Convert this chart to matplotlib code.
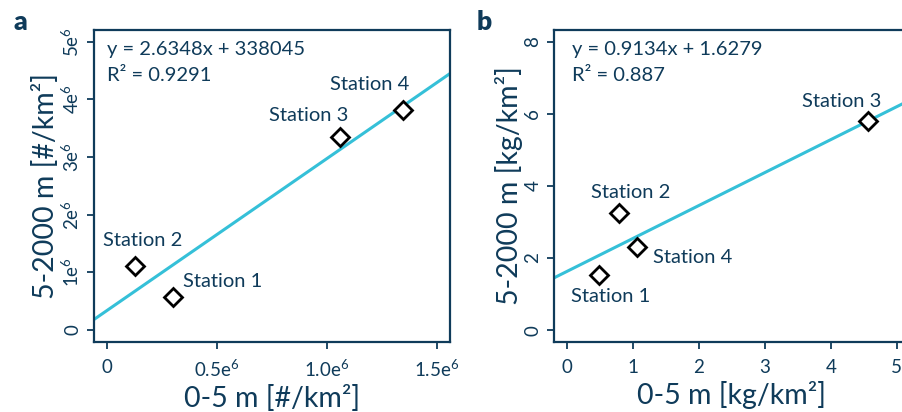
import numpy as np
import matplotlib
matplotlib.use('Agg')
import matplotlib.pyplot as plt

plt.rcParams['font.family'] = ['Lato', 'DejaVu Sans']
plt.rcParams['mathtext.fontset'] = 'custom'
plt.rcParams['mathtext.rm'] = 'Lato'
plt.rcParams['mathtext.it'] = 'Lato'

navy = '#0f3b5a'
cyan = '#35c0d8'

stations = ['Station 1', 'Station 2', 'Station 3', 'Station 4']

# panel a: numbers per km2
num_surface = [0.30e6, 0.127e6, 1.059e6, 1.344e6]
num_deep = [0.577e6, 1.11e6, 3.34e6, 3.81e6]
num_fit = (2.6348, 338045)
num_eq = ['y = 2.6348x + 338045', 'R\u00b2 = 0.9291']

# panel b: mass per km2
mass_surface = [0.486, 0.794, 4.56, 1.067]
mass_deep = [1.53, 3.24, 5.79, 2.29]
mass_fit = (0.9134, 1.6279)
mass_eq = ['y = 0.9134x + 1.6279', 'R\u00b2 = 0.887']

num_xticks = [0, 0.5e6, 1.0e6, 1.5e6]
num_xticklabels = ['0', '0.5e$^{6}$', '1.0e$^{6}$', '1.5e$^{6}$']
num_yticks = [0, 1e6, 2e6, 3e6, 4e6, 5e6]
num_yticklabels = ['0', '1e$^{6}$', '2e$^{6}$', '3e$^{6}$', '4e$^{6}$', '5e$^{6}$']
mass_xticks = [0, 1, 2, 3, 4, 5]
mass_yticks = [0, 2, 4, 6, 8]

fig = plt.figure(figsize=(9.03, 4.12), dpi=100)
W, H = 903, 412
axA = fig.add_axes([94 / W, 70 / H, 356 / W, 312 / H])
axB = fig.add_axes([554 / W, 70 / H, 356 / W, 312 / H])
eq_x = {axA: 0.036, axB: 0.05}


def style(ax, xlim, ylim, xticks, xlabels, yticks, ylabels, xlab, ylab):
    ax.set_xlim(xlim)
    ax.set_ylim(ylim)
    for s in ax.spines.values():
        s.set_color(navy)
        s.set_linewidth(1.6)
    ax.set_xticks(xticks)
    ax.set_xticklabels(xlabels)
    ax.set_yticks(yticks)
    ax.set_yticklabels(ylabels, rotation=90, va='center')
    ax.tick_params(colors=navy, labelsize=13.5, length=5, width=1.3, pad=4)
    ax.tick_params(axis='x', pad=7)
    ax.set_xlabel(xlab, fontsize=20.5, color=navy, labelpad=4)
    ax.set_ylabel(ylab, fontsize=20.5, color=navy, labelpad=1)


def draw(ax, xs, ys, fit, eq, labels):
    xl = np.array(ax.get_xlim())
    ax.plot(xl, fit[0] * xl + fit[1], color=cyan, lw=2.2, zorder=2)
    ax.plot(xs, ys, linestyle='none', marker='D', markersize=9,
            markerfacecolor='white', markeredgecolor='black',
            markeredgewidth=2.0, zorder=3)
    ax.text(eq_x[ax], 0.936, eq[0], transform=ax.transAxes,
            fontsize=14.5, color=navy, ha='left', va='center')
    ax.text(eq_x[ax], 0.853, eq[1], transform=ax.transAxes,
            fontsize=14.5, color=navy, ha='left', va='center')
    for (tx, ty, ha), name in zip(labels, stations):
        ax.text(tx, ty, name, fontsize=14.5, color=navy, ha=ha, va='center')


style(axA, (-0.059e6, 1.559e6), (-0.208e6, 5.2e6), num_xticks, num_xticklabels,
      num_yticks, num_yticklabels, '0-5 m [#/km\u00b2]', '5-2000 m [#/km\u00b2]')
style(axB, (-0.197, 5.2), (-0.33, 8.32), mass_xticks, [str(v) for v in mass_xticks],
      mass_yticks, [str(v) for v in mass_yticks], '0-5 m [kg/km\u00b2]', '5-2000 m [kg/km\u00b2]')

draw(axA, num_surface, num_deep, num_fit, num_eq,
     [(0.345e6, 0.837e6, 'left'), (0.162e6, 1.56e6, 'center'),
      (1.095e6, 3.71e6, 'right'), (1.373e6, 4.26e6, 'right')])
draw(axB, mass_surface, mass_deep, mass_fit, mass_eq,
     [(0.668, 0.924, 'center'), (0.971, 3.82, 'center'),
      (4.765, 6.35, 'right'), (1.30, 2.0, 'left')])

fig.text(20 / W, 1 - 22 / H, 'a', fontsize=19, fontweight='heavy', color=navy,
         ha='center', va='center')
fig.text(484 / W, 1 - 22 / H, 'b', fontsize=19, fontweight='heavy', color=navy,
         ha='center', va='center')

fig.savefig('out.png', dpi=100)
